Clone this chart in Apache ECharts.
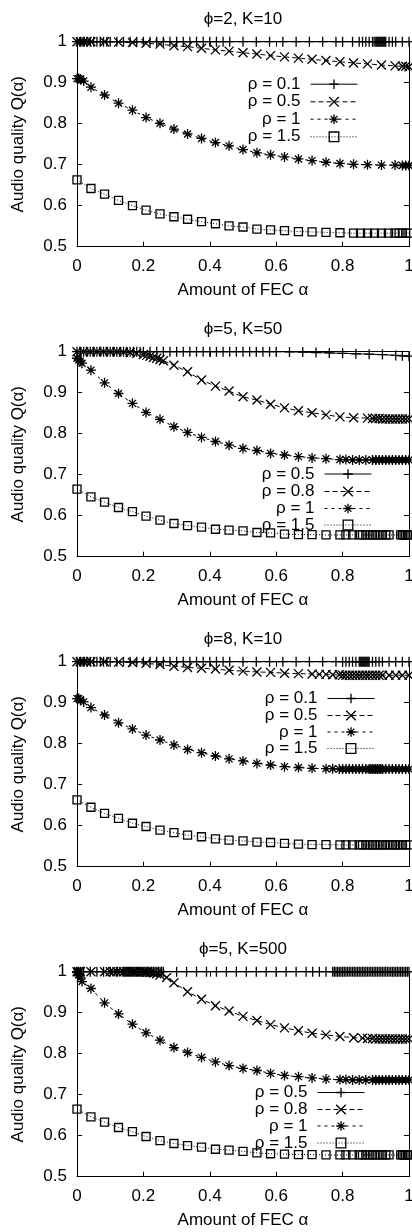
<!DOCTYPE html>
<html>
<head>
<meta charset="utf-8">
<script src="https://cdn.jsdelivr.net/npm/echarts@6/dist/echarts.min.js"></script>
<style>
  html, body { margin: 0; padding: 0; background: #fff; }
  #chart { width: 412px; height: 1232px; }
</style>
</head>
<body>
<div id="chart"></div>
<script>
// panel titles and legend labels
const titles = ['ϕ=2, K=10', 'ϕ=5, K=50', 'ϕ=8, K=10', 'ϕ=5, K=500']
const namesLowK = ['ρ = 0.1', 'ρ = 0.5', 'ρ = 1', 'ρ = 1.5']
const namesHighK = ['ρ = 0.5', 'ρ = 0.8', 'ρ = 1', 'ρ = 1.5']
const xAxisName = 'Amount of FEC α'
const yAxisName = 'Audio quality Q(α)'

// ---- panel 1: phi=2, K=10 ----
const p1xA = [0, 0.01, 0.02, 0.03, 0.04, 0.05, 0.06, 0.07, 0.08, 0.09,
  0.1, 0.12, 0.14, 0.16, 0.18, 0.2, 0.22, 0.24, 0.26, 0.28,
  0.3, 0.32, 0.34, 0.36, 0.38, 0.4, 0.42, 0.44, 0.46, 0.5,
  0.54, 0.58, 0.62, 0.66, 0.7, 0.74, 0.78, 0.8, 0.83, 0.85,
  0.86, 0.87, 0.88, 0.89, 0.895, 0.9, 0.903, 0.906, 0.909, 0.912,
  0.915, 0.918, 0.921, 0.924, 0.927, 0.93, 0.94, 0.95, 0.96, 0.98,
  1]
const p1yA = [1, 1, 1, 1, 1, 1, 1, 1, 1, 1,
  1, 1, 1, 1, 1, 1, 1, 1, 1, 1,
  1, 1, 1, 1, 1, 1, 1, 1, 1, 1,
  1, 1, 1, 1, 1, 1, 1, 1, 1, 1,
  1, 1, 1, 1, 1, 1, 1, 1, 1, 1,
  1, 1, 1, 1, 1, 1, 1, 1, 1, 1,
  1]
const p1xB = [0, 0.01, 0.02, 0.03, 0.042, 0.083, 0.125, 0.167, 0.208, 0.25,
  0.292, 0.333, 0.375, 0.417, 0.458, 0.5, 0.542, 0.583, 0.625, 0.667,
  0.708, 0.75, 0.792, 0.833, 0.875, 0.917, 0.958, 0.98, 0.99, 1]
const p1yB = [1, 1, 1, 1, 1, 1, 0.999, 0.998, 0.996, 0.994,
  0.99, 0.988, 0.984, 0.98, 0.977, 0.973, 0.97, 0.966, 0.963, 0.96,
  0.957, 0.954, 0.951, 0.948, 0.946, 0.943, 0.941, 0.94, 0.94, 0.939]
const p1xC = [0, 0.005, 0.01, 0.02, 0.042, 0.083, 0.125, 0.167, 0.208, 0.25,
  0.292, 0.333, 0.375, 0.417, 0.458, 0.5, 0.542, 0.583, 0.625, 0.667,
  0.708, 0.75, 0.792, 0.833, 0.875, 0.917, 0.958, 0.98, 0.99, 1]
const p1yC = [0.91, 0.91, 0.909, 0.904, 0.889, 0.87, 0.85, 0.833, 0.815, 0.801,
  0.787, 0.775, 0.764, 0.754, 0.746, 0.737, 0.729, 0.724, 0.719, 0.714,
  0.71, 0.706, 0.703, 0.701, 0.7, 0.699, 0.699, 0.698, 0.698, 0.698]
const p1xD = [0, 0.042, 0.083, 0.125, 0.167, 0.208, 0.25, 0.292, 0.333, 0.375,
  0.417, 0.458, 0.5, 0.542, 0.583, 0.625, 0.667, 0.708, 0.75, 0.792,
  0.833, 0.854, 0.875, 0.896, 0.917, 0.938, 0.958, 0.97, 0.98, 0.99, 1]
const p1yD = [0.663, 0.642, 0.628, 0.613, 0.6, 0.589, 0.58, 0.573, 0.567, 0.561,
  0.556, 0.551, 0.548, 0.543, 0.541, 0.539, 0.537, 0.536, 0.535, 0.534,
  0.533, 0.533, 0.533, 0.533, 0.533, 0.533, 0.533, 0.533, 0.533, 0.533, 0.533]

// ---- panel 2: phi=5, K=50 ----
const p2xA = [0, 0.01, 0.02, 0.03, 0.04, 0.05, 0.06, 0.07, 0.08, 0.09,
  0.1, 0.11, 0.12, 0.13, 0.14, 0.15, 0.16, 0.17, 0.18, 0.19,
  0.2, 0.22, 0.24, 0.26, 0.28, 0.3, 0.32, 0.34, 0.36, 0.38,
  0.4, 0.42, 0.44, 0.46, 0.48, 0.5, 0.52, 0.54, 0.56, 0.58,
  0.6, 0.64, 0.68, 0.72, 0.76, 0.8, 0.84, 0.88, 0.92, 0.96,
  0.98, 1]
const p2yA = [1, 1, 1, 1, 1, 1, 1, 1, 1, 1,
  1, 1, 1, 1, 1, 1, 1, 1, 1, 1,
  1, 1, 1, 1, 1, 1, 1, 1, 1, 1,
  1, 1, 1, 1, 1, 1, 1, 1, 1, 1,
  1, 0.9995, 0.999, 0.998, 0.997, 0.996, 0.995, 0.994, 0.993, 0.991,
  0.99, 0.989]
const p2xB = [0, 0.02, 0.04, 0.06, 0.08, 0.1, 0.12, 0.14, 0.16, 0.18,
  0.2, 0.21, 0.22, 0.23, 0.24, 0.25, 0.26, 0.292, 0.333, 0.375,
  0.417, 0.458, 0.5, 0.542, 0.583, 0.625, 0.667, 0.708, 0.75, 0.792,
  0.833, 0.875, 0.89, 0.9, 0.91, 0.92, 0.93, 0.94, 0.95, 0.96,
  0.97, 0.98, 0.99, 1]
const p2yB = [1, 1, 1, 1, 1, 1, 1, 0.999, 0.998, 0.996,
  0.993, 0.991, 0.989, 0.986, 0.984, 0.981, 0.978, 0.967, 0.951, 0.931,
  0.916, 0.904, 0.89, 0.882, 0.872, 0.863, 0.856, 0.851, 0.846, 0.841,
  0.839, 0.838, 0.837, 0.837, 0.837, 0.836, 0.836, 0.836, 0.836, 0.836,
  0.836, 0.836, 0.836, 0.836]
const p2xC = [0, 0.005, 0.01, 0.015, 0.042, 0.083, 0.125, 0.167, 0.208, 0.25,
  0.292, 0.333, 0.375, 0.417, 0.458, 0.5, 0.542, 0.583, 0.625, 0.667,
  0.708, 0.75, 0.792, 0.81, 0.83, 0.85, 0.87, 0.89, 0.9, 0.91,
  0.92, 0.93, 0.94, 0.95, 0.96, 0.97, 0.98, 0.99, 1]
const p2yC = [0.984, 0.98, 0.977, 0.972, 0.955, 0.924, 0.898, 0.874, 0.852, 0.835,
  0.817, 0.803, 0.791, 0.781, 0.772, 0.764, 0.759, 0.752, 0.748, 0.744,
  0.741, 0.739, 0.737, 0.737, 0.736, 0.736, 0.736, 0.736, 0.736, 0.736,
  0.736, 0.736, 0.736, 0.736, 0.736, 0.736, 0.736, 0.736, 0.736]
const p2xD = [0, 0.042, 0.083, 0.125, 0.167, 0.208, 0.25, 0.292, 0.333, 0.375,
  0.417, 0.458, 0.5, 0.542, 0.583, 0.625, 0.667, 0.708, 0.75, 0.792,
  0.81, 0.83, 0.85, 0.86, 0.87, 0.88, 0.89, 0.9, 0.91, 0.92,
  0.93, 0.94, 0.975, 0.98, 0.985, 0.99, 0.995, 1]
const p2yD = [0.665, 0.646, 0.633, 0.62, 0.61, 0.599, 0.589, 0.581, 0.576, 0.572,
  0.567, 0.565, 0.563, 0.559, 0.558, 0.555, 0.554, 0.554, 0.553, 0.553,
  0.553, 0.553, 0.553, 0.553, 0.553, 0.553, 0.553, 0.553, 0.553, 0.553,
  0.553, 0.553, 0.553, 0.553, 0.553, 0.553, 0.553, 0.553]

// ---- panel 3: phi=8, K=10 ----
const p3xA = [0, 0.01, 0.02, 0.03, 0.04, 0.05, 0.06, 0.07, 0.08, 0.09,
  0.1, 0.12, 0.14, 0.16, 0.18, 0.2, 0.22, 0.24, 0.26, 0.28,
  0.3, 0.32, 0.34, 0.36, 0.38, 0.4, 0.42, 0.44, 0.46, 0.5,
  0.54, 0.58, 0.62, 0.66, 0.7, 0.74, 0.78, 0.8, 0.81, 0.82,
  0.83, 0.84, 0.85, 0.853, 0.856, 0.859, 0.862, 0.865, 0.868, 0.871,
  0.874, 0.877, 0.88, 0.89, 0.9, 0.91, 0.92, 0.94, 0.96, 0.98,
  1]
const p3yA = [1, 1, 1, 1, 1, 1, 1, 1, 1, 1,
  1, 1, 1, 1, 1, 1, 1, 1, 1, 1,
  1, 1, 1, 1, 1, 1, 1, 1, 1, 1,
  1, 1, 1, 1, 1, 1, 1, 1, 1, 1,
  1, 1, 1, 1, 1, 1, 1, 1, 1, 1,
  1, 1, 1, 1, 1, 1, 1, 1, 1, 1,
  1]
const p3xB = [0, 0.01, 0.02, 0.03, 0.042, 0.083, 0.125, 0.167, 0.208, 0.25,
  0.292, 0.333, 0.375, 0.417, 0.458, 0.5, 0.542, 0.583, 0.625, 0.667,
  0.708, 0.73, 0.75, 0.77, 0.79, 0.8, 0.81, 0.82, 0.83, 0.84,
  0.85, 0.86, 0.87, 0.88, 0.89, 0.9, 0.91, 0.92, 0.94, 0.96,
  0.98, 1]
const p3yB = [1, 1, 1, 1, 1, 1, 0.999, 0.998, 0.996, 0.993,
  0.989, 0.986, 0.984, 0.982, 0.979, 0.977, 0.975, 0.974, 0.972, 0.971,
  0.97, 0.969, 0.969, 0.968, 0.968, 0.967, 0.967, 0.967, 0.967, 0.967,
  0.967, 0.967, 0.967, 0.967, 0.967, 0.967, 0.967, 0.967, 0.967, 0.967,
  0.967, 0.967]
const p3xC = [0, 0.005, 0.01, 0.02, 0.042, 0.083, 0.125, 0.167, 0.208, 0.25,
  0.292, 0.333, 0.375, 0.417, 0.458, 0.5, 0.542, 0.583, 0.625, 0.667,
  0.708, 0.75, 0.77, 0.79, 0.8, 0.81, 0.82, 0.83, 0.84, 0.85,
  0.86, 0.87, 0.88, 0.885, 0.89, 0.895, 0.9, 0.905, 0.91, 0.915,
  0.92, 0.93, 0.94, 0.95, 0.96, 0.97, 0.98, 0.99, 1]
const p3yC = [0.91, 0.91, 0.907, 0.902, 0.888, 0.87, 0.851, 0.836, 0.821, 0.809,
  0.797, 0.786, 0.778, 0.77, 0.763, 0.758, 0.752, 0.748, 0.744, 0.742,
  0.74, 0.739, 0.739, 0.738, 0.738, 0.738, 0.738, 0.738, 0.738, 0.738,
  0.738, 0.738, 0.738, 0.738, 0.738, 0.738, 0.738, 0.738, 0.738, 0.738,
  0.738, 0.738, 0.738, 0.738, 0.738, 0.738, 0.738, 0.738, 0.738]
const p3xD = [0, 0.042, 0.083, 0.125, 0.167, 0.208, 0.25, 0.292, 0.333, 0.375,
  0.417, 0.458, 0.5, 0.542, 0.583, 0.625, 0.667, 0.708, 0.75, 0.792,
  0.81, 0.83, 0.85, 0.86, 0.87, 0.88, 0.89, 0.9, 0.91, 0.92,
  0.93, 0.94, 0.95, 0.96, 0.97, 0.98, 0.99, 1]
const p3yD = [0.663, 0.645, 0.63, 0.618, 0.606, 0.598, 0.589, 0.583, 0.577, 0.573,
  0.568, 0.565, 0.563, 0.56, 0.559, 0.557, 0.555, 0.554, 0.554, 0.553,
  0.553, 0.553, 0.553, 0.553, 0.553, 0.553, 0.553, 0.553, 0.553, 0.553,
  0.553, 0.553, 0.553, 0.553, 0.553, 0.553, 0.553, 0.553]

// ---- panel 4: phi=5, K=500 ----
const p4xA = [0, 0.005, 0.01, 0.02, 0.04, 0.06, 0.08, 0.1, 0.12, 0.14,
  0.145, 0.15, 0.155, 0.16, 0.165, 0.17, 0.175, 0.18, 0.185, 0.19,
  0.195, 0.2, 0.205, 0.21, 0.215, 0.22, 0.225, 0.23, 0.235, 0.24,
  0.245, 0.25, 0.255, 0.26, 0.3, 0.33, 0.36, 0.39, 0.42, 0.45,
  0.48, 0.51, 0.54, 0.57, 0.6, 0.63, 0.66, 0.69, 0.71, 0.73,
  0.75, 0.77, 0.775, 0.78, 0.785, 0.79, 0.795, 0.8, 0.805, 0.81,
  0.815, 0.82, 0.825, 0.83, 0.835, 0.84, 0.845, 0.85, 0.855, 0.86,
  0.865, 0.87, 0.875, 0.88, 0.885, 0.89, 0.895, 0.9, 0.905, 0.91,
  0.915, 0.92, 0.925, 0.93, 0.935, 0.94, 0.945, 0.95, 0.955, 0.96,
  0.965, 0.97, 0.975, 0.98, 0.985, 0.99, 0.995, 1]
const p4yA = [1, 1, 1, 1, 1, 1, 1, 1, 1, 1,
  1, 1, 1, 1, 1, 1, 1, 1, 1, 1,
  1, 1, 1, 1, 1, 1, 1, 1, 1, 1,
  1, 1, 1, 1, 1, 1, 1, 1, 1, 1,
  1, 1, 1, 1, 1, 1, 1, 1, 1, 1,
  1, 1, 1, 1, 1, 1, 1, 1, 1, 1,
  1, 1, 1, 1, 1, 1, 1, 1, 1, 1,
  1, 1, 1, 1, 1, 1, 1, 1, 1, 1,
  1, 1, 1, 1, 1, 1, 1, 1, 1, 1,
  1, 1, 1, 1, 1, 1, 1, 1]
const p4xB = [0, 0.005, 0.01, 0.042, 0.083, 0.1, 0.11, 0.12, 0.13, 0.14,
  0.15, 0.16, 0.17, 0.18, 0.19, 0.2, 0.21, 0.22, 0.23, 0.24,
  0.25, 0.27, 0.292, 0.333, 0.375, 0.417, 0.458, 0.5, 0.542, 0.583,
  0.625, 0.667, 0.708, 0.75, 0.792, 0.833, 0.86, 0.875, 0.89, 0.9,
  0.91, 0.92, 0.93, 0.94, 0.95, 0.96, 0.97, 0.98, 0.99, 1]
const p4yB = [1, 1, 1, 1, 1, 1, 1, 1, 1, 1,
  1, 1, 1, 1, 1, 1, 0.999, 0.998, 0.997, 0.995,
  0.992, 0.986, 0.973, 0.951, 0.933, 0.917, 0.904, 0.891, 0.881, 0.871,
  0.863, 0.856, 0.85, 0.846, 0.842, 0.839, 0.838, 0.837, 0.837, 0.836,
  0.836, 0.836, 0.836, 0.836, 0.836, 0.836, 0.836, 0.836, 0.836, 0.836]
const p4xC = [0, 0.005, 0.01, 0.015, 0.042, 0.083, 0.125, 0.167, 0.208, 0.25,
  0.292, 0.333, 0.375, 0.417, 0.458, 0.5, 0.542, 0.583, 0.625, 0.667,
  0.708, 0.75, 0.792, 0.81, 0.83, 0.85, 0.87, 0.89, 0.9, 0.91,
  0.92, 0.93, 0.94, 0.95, 0.96, 0.97, 0.98, 0.99, 1]
const p4yC = [0.998, 0.993, 0.985, 0.976, 0.959, 0.924, 0.897, 0.872, 0.851, 0.833,
  0.815, 0.803, 0.791, 0.78, 0.771, 0.764, 0.759, 0.752, 0.747, 0.744,
  0.741, 0.738, 0.737, 0.737, 0.736, 0.736, 0.736, 0.736, 0.736, 0.736,
  0.736, 0.736, 0.736, 0.736, 0.736, 0.736, 0.736, 0.736, 0.736]
const p4xD = [0, 0.042, 0.083, 0.125, 0.167, 0.208, 0.25, 0.292, 0.333, 0.375,
  0.417, 0.458, 0.5, 0.542, 0.583, 0.625, 0.667, 0.708, 0.75, 0.792,
  0.81, 0.83, 0.85, 0.86, 0.87, 0.88, 0.89, 0.9, 0.91, 0.92,
  0.93, 0.94, 0.975, 0.98, 0.985, 0.99, 0.995, 1]
const p4yD = [0.665, 0.646, 0.633, 0.62, 0.61, 0.598, 0.588, 0.581, 0.576, 0.572,
  0.567, 0.565, 0.562, 0.558, 0.556, 0.555, 0.554, 0.554, 0.553, 0.553,
  0.553, 0.553, 0.553, 0.553, 0.553, 0.553, 0.553, 0.553, 0.553, 0.553,
  0.553, 0.553, 0.553, 0.553, 0.553, 0.553, 0.553, 0.553]

const panels = [
  { title: titles[0], names: namesLowK, xs: [p1xA, p1xB, p1xC, p1xD], ys: [p1yA, p1yB, p1yC, p1yD] },
  { title: titles[1], names: namesHighK, xs: [p2xA, p2xB, p2xC, p2xD], ys: [p2yA, p2yB, p2yC, p2yD] },
  { title: titles[2], names: namesLowK, xs: [p3xA, p3xB, p3xC, p3xD], ys: [p3yA, p3yB, p3yC, p3yD] },
  { title: titles[3], names: namesHighK, xs: [p4xA, p4xB, p4xC, p4xD], ys: [p4yA, p4yB, p4yC, p4yD] },
]

// layout (pixels)
const PANEL_STEP = 310
const PLOT_TOP = 41.7
const PLOT_H = 205
const legendRight = [54, 40, 37, 47]
const legendRows = [
  [81.7, 99.3, 116.7, 134.3],
  [471.5, 489, 506, 522.5],
  [696, 713, 729.5, 746],
  [1090, 1107, 1123.5, 1140.5],
]

const FONT = '"Liberation Sans", Arial, Helvetica, sans-serif'
const FS = 17

// gnuplot-ish point types: +, x, *, box
const marks = [
  { symbol: 'path://M0,5L10,5M5,0L5,10', size: 10, dash: 'solid' },
  { symbol: 'path://M0,0L10,10M10,0L0,10', size: 9, dash: [5, 3] },
  { symbol: 'path://M0,5L10,5M5,0L5,10M1.5,1.5L8.5,8.5M8.5,1.5L1.5,8.5', size: 10, dash: [3, 4] },
  { symbol: 'path://M0,0L10,0L10,10L0,10Z', size: 8, dash: [1, 2] },
]
const MARK_STROKE = 1.3

const textBase = { fontFamily: FONT, fontSize: FS, color: '#000' }
const lineBlack = { color: '#000', width: 1 }

const grid = []
const xAxis = []
const yAxis = []
const series = []
const legend = []

panels.forEach((panel, p) => {
  grid.push({
    left: 77, right: 3, top: PLOT_TOP + p * PANEL_STEP, height: PLOT_H,
    containLabel: false, outerBoundsMode: 'none',
  })

  const xCommon = {
    gridIndex: p, type: 'value', min: 0, max: 1, interval: 0.2,
    axisLine: { show: true, onZero: false, lineStyle: lineBlack },
    axisTick: { show: true, inside: true, length: 5, lineStyle: lineBlack },
    splitLine: { show: false },
  }
  xAxis.push(Object.assign({}, xCommon, {
    position: 'bottom',
    axisLabel: Object.assign({ margin: 11 }, textBase),
    name: xAxisName, nameLocation: 'middle', nameGap: 35,
    nameTextStyle: textBase,
  }))
  xAxis.push(Object.assign({}, xCommon, {
    position: 'top',
    axisLabel: { show: false },
    name: panel.title, nameLocation: 'middle', nameGap: 14,
    nameTextStyle: textBase,
  }))

  const yCommon = {
    gridIndex: p, type: 'value', min: 0.5, max: 1, interval: 0.1,
    axisLine: { show: true, onZero: false, lineStyle: lineBlack },
    axisTick: { show: true, inside: true, length: 5, lineStyle: lineBlack },
    splitLine: { show: false },
  }
  yAxis.push(Object.assign({}, yCommon, {
    position: 'left',
    axisLabel: Object.assign({ margin: 10 }, textBase),
    name: yAxisName, nameLocation: 'middle', nameGap: 50,
    nameTextStyle: textBase,
  }))
  yAxis.push(Object.assign({}, yCommon, {
    position: 'right',
    axisLabel: { show: false },
  }))

  panel.names.forEach((label, s) => {
    const id = p + '|' + label
    const m = marks[s]
    const xs = panel.xs[s]
    const ys = panel.ys[s]
    series.push({
      type: 'line',
      name: id,
      xAxisIndex: p * 2,
      yAxisIndex: p * 2,
      data: xs.map((x, j) => [x, ys[j]]),
      symbol: m.symbol,
      symbolSize: m.size,
      showSymbol: true,
      clip: false,
      silent: true,
      animation: false,
      emphasis: { disabled: true },
      lineStyle: { color: '#000', width: 1, type: m.dash },
      itemStyle: { color: 'transparent', borderColor: '#000', borderWidth: MARK_STROKE },
    })
    legend.push({
      orient: 'vertical',
      align: 'right',
      right: legendRight[p],
      top: legendRows[p][s] - 6,
      padding: 0,
      itemWidth: 47,
      itemHeight: 12,
      selectedMode: false,
      data: [id],
      formatter: (n) => n.split('|')[1],
      itemStyle: { color: 'transparent', borderColor: '#000', borderWidth: MARK_STROKE },
      lineStyle: { color: '#000', width: 1, type: m.dash },
      textStyle: Object.assign({ padding: [0, 5, 0, 0] }, textBase),
    })
  })
})

const chart = echarts.init(document.getElementById('chart'), null, { renderer: 'canvas' })
chart.setOption({
  backgroundColor: '#fff',
  animation: false,
  grid, xAxis, yAxis, series, legend,
})
</script>
</body>
</html>
